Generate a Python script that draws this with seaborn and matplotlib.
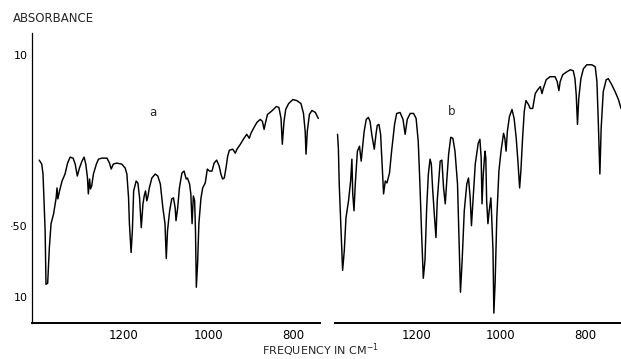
import matplotlib
matplotlib.use("Agg")
import matplotlib.pyplot as plt
import seaborn as sns
import pandas as pd

# Spectrum a: wavenumber (cm-1) and absorbance-scale reading (chart units)
wn_a = [1399, 1393, 1390, 1385, 1383, 1379, 1375, 1371, 1365, 1359, 1357, 1355, 1351, 1345,
        1338, 1332, 1326, 1319, 1314, 1309, 1304, 1298, 1293, 1289, 1285, 1283, 1280, 1278,
        1275, 1271, 1264, 1259, 1251, 1239, 1233, 1229, 1224, 1216, 1204, 1196, 1192, 1188,
        1186, 1182, 1179, 1176, 1170, 1166, 1162, 1158, 1154, 1151, 1148, 1145, 1142, 1139,
        1133, 1125, 1119, 1113, 1107, 1102, 1099, 1096, 1091, 1086, 1082, 1078, 1076, 1072,
        1068, 1062, 1057, 1052, 1049, 1044, 1041, 1038, 1035, 1032, 1030, 1028, 1025, 1022,
        1017, 1013, 1007, 1002, 997, 991, 986, 980, 974, 970, 966, 962, 958, 954, 950, 942,
        936, 932, 924, 917, 909, 903, 899, 893, 885, 877, 872, 868, 865, 860, 854, 846, 839,
        833, 828, 825, 821, 817, 810, 800, 791, 781, 775, 771, 769, 766, 761, 755, 747, 740]
abs_a = [164, 160, 150, 93, 39, 40, 76, 100, 110, 126, 136, 125, 133, 143,
         150, 161, 167, 166, 160, 148, 156, 163, 167, 160, 146, 130, 145, 135,
         138, 150, 160, 165, 166, 166, 161, 155, 160, 161, 160, 156, 150, 126,
         100, 71, 93, 133, 143, 141, 126, 96, 120, 128, 133, 123, 128, 136,
         146, 150, 148, 140, 116, 100, 65, 93, 113, 125, 126, 116, 103, 116,
         136, 151, 153, 145, 146, 140, 130, 100, 128, 123, 93, 36, 60, 100,
         126, 136, 141, 155, 153, 153, 161, 164, 158, 150, 145, 146, 156, 168, 174, 175,
         171, 175, 180, 185, 190, 186, 191, 196, 202, 205, 203, 195, 201, 210, 212, 215, 218,
         217, 206, 180, 203, 215, 221, 225, 224, 221, 211, 193, 170, 193, 210, 214, 212, 206]

# Spectrum b
wn_b = [1386, 1384, 1382, 1378, 1374, 1370, 1366, 1360, 1355, 1352, 1350, 1347, 1344, 1339,
        1334, 1330, 1327, 1323, 1318, 1313, 1309, 1305, 1299, 1295, 1292, 1288, 1284, 1280,
        1277, 1273, 1269, 1263, 1258, 1251, 1246, 1238, 1231, 1226, 1221, 1214, 1206, 1200,
        1195, 1191, 1187, 1183, 1179, 1175, 1171, 1167, 1164, 1161, 1157, 1153, 1150, 1146,
        1143, 1139, 1135, 1131, 1127, 1123, 1118, 1113, 1108, 1102, 1098, 1095, 1091, 1086,
        1080, 1076, 1072, 1069, 1065, 1060, 1053, 1049, 1046, 1044, 1041, 1037, 1035, 1033,
        1030, 1027, 1023, 1021, 1018, 1016, 1013, 1009, 1004, 999, 993, 990, 987, 984, 979,
        973, 968, 963, 959, 955, 952, 948, 944, 940, 934, 930, 924, 918, 912, 906, 902, 899,
        892, 883, 871, 866, 862, 859, 853, 843, 835, 828, 824, 821, 818, 815, 810, 804, 796,
        784, 776, 772, 769, 765, 762, 757, 750, 745, 737, 729, 721, 715]
abs_b = [190, 176, 140, 96, 53, 73, 106, 123, 143, 165, 130, 113, 140, 173,
         178, 163, 176, 193, 205, 207, 203, 190, 175, 190, 199, 200, 190, 156,
         130, 143, 141, 151, 173, 200, 211, 212, 205, 190, 205, 211, 211, 206,
         183, 140, 90, 45, 63, 116, 150, 165, 160, 136, 110, 86, 123, 146,
         163, 164, 136, 120, 146, 170, 187, 186, 173, 140, 76, 31, 63, 113,
         140, 146, 126, 98, 126, 160, 181, 185, 166, 120, 150, 173, 166, 123,
         100, 113, 126, 106, 73, 10, 40, 106, 153, 173, 191, 186, 173, 193, 208,
         215, 206, 186, 163, 136, 153, 186, 213, 224, 220, 216, 216, 231, 235, 238, 231, 236,
         245, 248, 248, 243, 234, 243, 250, 253, 255, 254, 246, 230, 200, 226, 246, 256, 260,
         260, 258, 243, 206, 150, 196, 233, 245, 246, 240, 233, 225, 216]

x_ticks = [1200, 1000, 800]
x_tick_labels = ["1200", "1000", "800"]
y_ticks = [26, 98, 270]
y_tick_labels = ["10", "\u00b750", "10"]

df_a = pd.DataFrame({"wn": wn_a, "abs": abs_a})
df_b = pd.DataFrame({"wn": wn_b, "abs": abs_b})

sns.set_style("white")
plt.rcParams["font.family"] = ["DejaVu Sans"]

fig = plt.figure(figsize=(6.21, 3.59), dpi=100)
ax_a = fig.add_axes([32 / 621, 36 / 359, 288 / 621, 290 / 359])
ax_b = fig.add_axes([335 / 621, 36 / 359, 286 / 621, 290 / 359])

sns.lineplot(data=df_a, x="wn", y="abs", ax=ax_a, color="black", linewidth=1.05,
             sort=False, estimator=None)
sns.lineplot(data=df_b, x="wn", y="abs", ax=ax_b, color="black", linewidth=1.05,
             sort=False, estimator=None)

ax_a.set_xlim(1416, 736)
ax_b.set_xlim(1392, 715)
for ax in (ax_a, ax_b):
    ax.set_ylim(0, 292)
    ax.set_xlabel("")
    ax.set_ylabel("")
    ax.set_xticks(x_ticks)
    ax.set_xticklabels(x_tick_labels)
    ax.tick_params(axis="x", direction="in", length=3, width=0.8, labelsize=8.5,
                   colors="black", pad=4)
    ax.spines["top"].set_visible(False)
    ax.spines["right"].set_visible(False)
    ax.spines["bottom"].set_linewidth(1.4)
    ax.spines["bottom"].set_color("black")
    ax.patch.set_alpha(0)

ax_a.set_yticks(y_ticks)
ax_a.set_yticklabels(y_tick_labels)
ax_a.tick_params(axis="y", direction="in", length=2.5, width=0.8, labelsize=8,
                 colors="black", pad=3)
ax_a.spines["left"].set_linewidth(0.9)
ax_a.spines["left"].set_color("black")

ax_b.spines["left"].set_visible(False)
ax_b.set_yticks([])

ax_a.text(1130, 212, "a", fontsize=8.5, ha="center", va="center")
ax_b.text(1115, 213, "b", fontsize=8.5, ha="center", va="center")

fig.text(13 / 621, 1 - 19 / 359, "ABSORBANCE", fontsize=8.5, ha="left", va="center")
fig.text(320 / 621, 1 - 355 / 359, "FREQUENCY IN CM$^{-1}$", fontsize=8,
         ha="center", va="baseline")

fig.savefig("out.png", dpi=100)
